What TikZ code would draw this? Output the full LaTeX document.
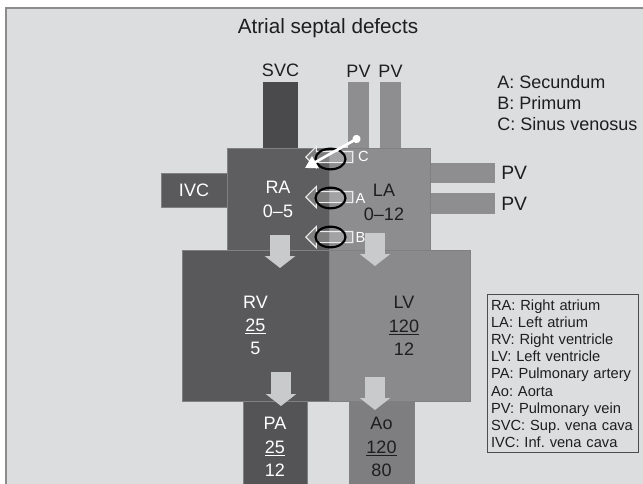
\documentclass[tikz,border=0pt]{standalone}
\usepackage{fontspec}
\setmainfont{Liberation Sans}
\usetikzlibrary{positioning,shapes.geometric,shapes.arrows,arrows.meta}
\definecolor{bggray}{HTML}{DCDDDF}
\definecolor{framegray}{HTML}{8C8C8C}
\definecolor{ragray}{HTML}{5E5E60}
\definecolor{lagray}{HTML}{8D8D8F}
\definecolor{rvgray}{HTML}{59595B}
\definecolor{lvgray}{HTML}{8A8A8C}
\definecolor{svcgray}{HTML}{4A4A4C}
\definecolor{ivcgray}{HTML}{5A5A5C}
\definecolor{pagray}{HTML}{545456}
\definecolor{aogray}{HTML}{7E7E80}
\definecolor{pvgray}{HTML}{8E8E90}
\definecolor{flowgray}{HTML}{C9CACC}
\definecolor{textdark}{HTML}{1E1E1E}
\tikzset{
    chamber/.style={draw=black!50,line width=0.3pt,inner sep=0pt,align=center,font=\fontsize{13.5}{18}\selectfont},
    rightside/.style={chamber,text=textdark},
    leftside/.style={chamber,text=white},
    vessel/.style={inner sep=0pt},
    tag/.style={font=\fontsize{13.5}{16}\selectfont,text=textdark},
    flow/.style={draw=flowgray,line width=15pt,-{Triangle[length=9pt 0 1,width=22.5pt 0 1]}},
    shunt/.style={single arrow,shape border rotate=180,anchor=tip,draw=white!85!gray,fill=white,fill opacity=0.2,line width=0.8pt,inner sep=3.75pt,single arrow head extend=3.75pt,minimum height=35.25pt},
    defect/.style={ellipse,draw=black,line width=1.6pt,minimum width=22.5pt,minimum height=15.5pt,inner sep=0pt},
    defectname/.style={text=white,inner sep=0.5pt,font=\fontsize{11}{13}\selectfont},
    sinus/.style={draw=white,line width=2pt,{Circle[length=6pt]}-{Triangle[length=9pt,width=10pt]}},
    keybox/.style={draw=black!70,line width=0.9pt,align=left,text width=108pt,inner xsep=2.6pt,inner ysep=3.6pt,font=\fontsize{11}{12.9}\selectfont\frenchspacing,text=textdark}
}
\begin{document}
\begin{tikzpicture}[x=0.75pt,y=-0.75pt]
    \clip (0,0) rectangle (643,483);
    \draw[framegray,line width=0.8pt,fill=bggray] (6,8) rectangle (700,520);
    \node[font=\fontsize{15.5}{18}\selectfont,text=textdark] (title) at (328,28) {Atrial septal defects};
    \node[tag,align=left,anchor=west] (types) at (492.6,103) {A: Secundum\\B: Primum\\C: Sinus venosus};

    \node[vessel,fill=svcgray,minimum width=26.25pt,minimum height=49.5pt] (SVC) at (280.5,115) {};
    \node[vessel,fill=pvgray,minimum width=15.75pt,minimum height=49.5pt] (PV1) at (358.5,115) {};
    \node[vessel,fill=pvgray,minimum width=15.75pt,minimum height=49.5pt] (PV2) at (390.5,115) {};
    \node[tag,above=0pt of SVC] (svc-name) {SVC};
    \node[tag,above=0pt of PV1] (pv1-name) {PV};
    \node[tag,above=0pt of PV2] (pv2-name) {PV};
    \node[vessel,fill=pvgray,minimum width=48.75pt,minimum height=15pt] (PV3) at (462.5,173) {};
    \node[vessel,fill=pvgray,minimum width=48.75pt,minimum height=15.75pt] (PV4) at (462.5,203.5) {};
    \node[tag,font=\fontsize{14.5}{16}\selectfont,right=1pt of PV3] (pv3-name) {PV};
    \node[tag,font=\fontsize{14.5}{16}\selectfont,right=1pt of PV4] (pv4-name) {PV};

    \node[leftside,fill=ivcgray,minimum width=49.5pt,minimum height=25.5pt] (IVC) at (194,190) {IVC};
    \node[leftside,fill=ragray,minimum width=76.5pt,minimum height=76.5pt] (RA) at (278,199) {RA\\0--5};
    \node[rightside,fill=lagray,minimum width=75.75pt,minimum height=76.5pt] (LA) at (379.5,199) {};
    \node[rightside,draw=none,fill=none] (la-name) at (384,202) {LA\\0--12};
    \node[leftside,fill=pagray,minimum width=48pt,minimum height=69pt,font=\fontsize{13.5}{17.5}\selectfont] (PA) at (275,447) {PA\\\underline{25}\\12};
    \node[rightside,fill=aogray,minimum width=48.75pt,minimum height=69pt,font=\fontsize{13.5}{17.5}\selectfont] (Ao) at (381.5,447) {Ao\\\underline{120}\\80};
    \node[leftside,fill=rvgray,minimum width=110.25pt,minimum height=113.25pt,font=\fontsize{13.5}{17.5}\selectfont] (RV) at (255.5,325.5) {RV\\\underline{25}\\5};
    \node[rightside,fill=lvgray,minimum width=105.75pt,minimum height=113.25pt] (LV) at (399.5,325.5) {};
    \node[rightside,draw=none,fill=none,font=\fontsize{13.5}{17.5}\selectfont] (lv-name) at (404,326) {LV\\\underline{120}\\12};

    \coordinate (ra-out) at (280,235);
    \coordinate (rv-in) at (280,268);
    \coordinate (la-out) at (375,233);
    \coordinate (lv-in) at (375,266);
    \coordinate (rv-out) at (281,372);
    \coordinate (pa-in) at (281,406);
    \coordinate (lv-out) at (375,377);
    \coordinate (ao-in) at (375,410);
    \draw[flow] (ra-out) -- (rv-in);
    \draw[flow] (la-out) -- (lv-in);
    \draw[flow] (rv-out) -- (pa-in);
    \draw[flow] (lv-out) -- (ao-in);

    \node[shunt] (shuntC) at (305,157) {};
    \node[shunt] (shuntA) at (305,197) {};
    \node[shunt] (shuntB) at (305,237) {};
    \node[defect] (ellC) at (330.5,159) {};
    \node[defect] (ellA) at (330.5,198) {};
    \node[defect] (ellB) at (330.5,237) {};
    \node[defectname,right=8pt of ellC,yshift=2pt] (nameC) {C};
    \node[defectname,right=6pt of ellA] (nameA) {A};
    \node[defectname,right=6pt of ellB] (nameB) {B};
    \coordinate (sv-top) at (360,137);
    \coordinate (sv-tip) at (305,168);
    \draw[sinus] (sv-top) -- (sv-tip);

    \node[keybox,anchor=north west] (abbrev) at (487,294) {RA: Right atrium\\LA: Left atrium\\RV: Right ventricle\\LV: Left ventricle\\PA: Pulmonary artery\\Ao: Aorta\\PV: Pulmonary vein\\SVC: Sup. vena cava\\IVC: Inf. vena cava};
\end{tikzpicture}
\end{document}
